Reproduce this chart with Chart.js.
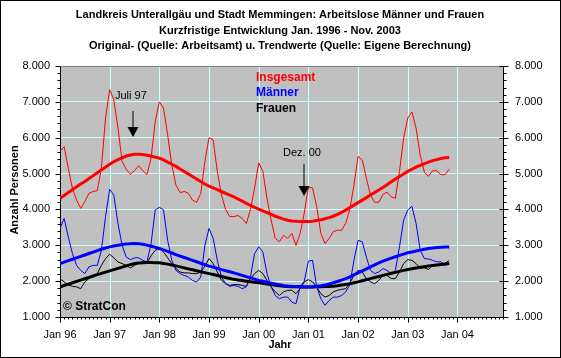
<!DOCTYPE html>
<html>
<head>
<meta charset="utf-8">
<script src="https://cdn.jsdelivr.net/npm/chart.js@4.4.1/dist/chart.umd.min.js"></script>
<style>
body{margin:0;background:#fff}
#wrap{width:561px;height:358px}
</style>
</head>
<body>
<div id="wrap"><canvas id="chart" width="561" height="358"></canvas></div>
<script>
var titleLines = [
    'Landkreis Unterallgäu und Stadt Memmingen: Arbeitslose Männer und Frauen',
    'Kurzfristige Entwicklung Jan. 1996 - Nov. 2003',
    'Original- (Quelle: Arbeitsamt) u. Trendwerte (Quelle: Eigene Berechnung)'
];
var yearLabels = ['Jan 96','Jan 97','Jan 98','Jan 99','Jan 00','Jan 01','Jan 02','Jan 03','Jan 04'];
var seriesNames = ['Insgesamt','Männer','Frauen'];

// monthly values Jan 1996 - Nov 2003 (index 0 = Jan 96)
var insgesamt = [5620,5750,5150,4590,4260,4030,4220,4450,4500,4520,5150,6550,
                 7340,7060,6270,5340,5120,4980,5080,5220,5080,4970,5430,6460,
                 7000,6830,6080,5240,4680,4470,4500,4450,4260,4200,4450,5340,
                 6000,5940,5060,4400,4000,3800,3800,3830,3750,3610,3990,4600,
                 5300,5060,4310,3700,3190,3100,3280,3190,3330,3000,3330,3900,
                 4620,4600,4080,3330,3050,3190,3380,3420,3420,3610,4000,4680,
                 5480,5380,4870,4400,4200,4200,4420,4480,4350,4310,5060,5990,
                 6550,6720,6270,5520,5040,4920,5080,5080,4970,4970,5120];
var maenner = [3470,3750,3235,2770,2440,2300,2210,2400,2440,2440,2860,3800,
               4560,4400,3610,3000,2670,2600,2650,2650,2580,2535,3050,3985,
               4060,3985,3140,2580,2300,2210,2160,2115,2020,1975,2115,3000,
               3470,3190,2580,2115,1930,1855,1880,1855,1790,1840,2115,2770,
               2955,2815,2210,1840,1600,1510,1555,1555,1415,1370,1840,2000,
               2560,2580,1850,1510,1325,1460,1555,1555,1600,1700,1900,2580,
               3140,3100,2670,2300,2210,2255,2350,2300,2210,2300,2955,3700,
               3985,4090,3610,2860,2630,2620,2580,2540,2540,2440,2490];
var frauen = [2070,1980,1900,1855,1840,1790,1980,2070,2130,2210,2440,2630,
              2750,2650,2535,2490,2440,2370,2440,2500,2535,2500,2710,2860,
              2910,2815,2650,2490,2350,2255,2230,2230,2210,2210,2255,2420,
              2630,2490,2255,2020,1930,1880,1905,1905,1880,1855,2070,2210,
              2300,2210,2020,1840,1700,1600,1700,1745,1745,1650,1790,1980,
              2040,1980,1840,1650,1555,1600,1700,1745,1770,1790,1950,2160,
              2300,2255,2070,1980,1930,2020,2160,2160,2070,2070,2255,2490,
              2600,2580,2490,2370,2370,2325,2440,2440,2490,2490,2580];

// trend values (Eigene Berechnung)
var trendInsgesamt = [4310,4390,4470,4550,4630,4710,4780,4860,4940,5020,5100,5180,
                      5260,5330,5390,5440,5490,5520,5540,5540,5530,5510,5490,5460,
                      5430,5380,5320,5260,5200,5130,5060,4990,4920,4850,4780,4710,
                      4650,4600,4550,4500,4450,4400,4350,4290,4230,4170,4110,4060,
                      4010,3960,3910,3860,3810,3770,3730,3700,3680,3670,3660,3660,
                      3660,3670,3690,3710,3740,3770,3810,3860,3920,3980,4050,4120,
                      4190,4260,4330,4400,4470,4540,4610,4690,4770,4850,4920,4990,
                      5060,5120,5180,5230,5280,5320,5360,5390,5420,5440,5450];
var trendMaenner = [2490,2530,2570,2610,2650,2690,2730,2770,2810,2850,2890,2925,
                    2955,2980,3000,3020,3035,3045,3050,3045,3030,3005,2975,2945,
                    2910,2870,2830,2785,2740,2700,2660,2620,2580,2540,2500,2460,
                    2420,2390,2355,2320,2290,2260,2230,2195,2160,2125,2090,2055,
                    2020,1995,1970,1945,1920,1900,1880,1865,1855,1848,1843,1840,
                    1840,1845,1855,1870,1890,1920,1955,1990,2030,2070,2120,2175,
                    2230,2285,2340,2400,2455,2510,2560,2600,2640,2680,2720,2755,
                    2790,2815,2840,2865,2890,2910,2925,2935,2945,2950,2955];
var trendFrauen = [1840,1878,1916,1954,1992,2030,2068,2106,2144,2180,2215,2250,
                   2285,2320,2355,2390,2425,2460,2490,2505,2515,2520,2520,2515,
                   2510,2495,2475,2450,2425,2398,2370,2343,2316,2290,2263,2237,
                   2210,2183,2156,2130,2103,2076,2050,2033,2017,2000,1985,1970,
                   1955,1938,1920,1903,1885,1868,1855,1850,1846,1843,1841,1840,
                   1840,1840,1842,1845,1848,1851,1855,1870,1890,1910,1930,1955,
                   1980,2010,2040,2070,2100,2130,2160,2190,2218,2245,2272,2300,
                   2325,2345,2365,2385,2403,2420,2435,2450,2465,2478,2490];

var FONT = 'Liberation Sans, Arial, sans-serif';

function pts(arr){
    return arr.map(function(v, i){ return {x: i, y: v}; });
}
function fmt(v){
    return String(v).replace(/\B(?=(\d{3})+(?!\d))/g, '.');
}
function arrow(ctx, x, y1, y2){
    ctx.beginPath();
    ctx.moveTo(x + 0.5, y1);
    ctx.lineTo(x + 0.5, y2 - 8);
    ctx.stroke();
    ctx.beginPath();
    ctx.moveTo(x - 5, y2 - 10);
    ctx.lineTo(x + 6, y2 - 10);
    ctx.lineTo(x + 0.5, y2);
    ctx.closePath();
    ctx.fill();
}

var frame = {
    id: 'frame',
    beforeDraw: function(chart){
        var ctx = chart.ctx, a = chart.chartArea;
        ctx.save();
        ctx.fillStyle = '#fff';
        ctx.fillRect(0, 0, chart.width, chart.height);
        ctx.fillStyle = '#c0c0c0';
        ctx.fillRect(a.left, a.top, a.right - a.left, a.bottom - a.top);
        ctx.restore();
    },
    beforeDatasetsDraw: function(chart){
        // crisp yearly grid lines
        var ctx = chart.ctx, a = chart.chartArea, xs = chart.scales.x;
        ctx.save();
        ctx.strokeStyle = '#ccffff';
        ctx.lineWidth = 1;
        ctx.beginPath();
        for (var m = 12; m <= 96; m += 12) {
            var px = Math.round(xs.getPixelForValue(m)) + 0.5;
            ctx.moveTo(px, a.top); ctx.lineTo(px, a.bottom);
        }
        ctx.stroke();
        ctx.restore();
    },
    afterDraw: function(chart){
        var ctx = chart.ctx, a = chart.chartArea;
        var xs = chart.scales.x, ys = chart.scales.y;
        ctx.save();
        ctx.strokeStyle = '#000';
        ctx.lineWidth = 1;
        // outer frame
        ctx.strokeRect(0.5, 0.5, chart.width - 1, chart.height - 1);
        // top edge of plot
        ctx.strokeStyle = '#808080';
        ctx.beginPath();
        ctx.moveTo(a.left, Math.round(a.top) + 0.5);
        ctx.lineTo(a.right, Math.round(a.top) + 0.5);
        ctx.stroke();
        // tick marks
        ctx.strokeStyle = '#000';
        ctx.beginPath();
        var l = Math.round(a.left) + 0.5, r = Math.round(a.right) + 0.5, b = Math.round(a.bottom) + 0.5;
        for (var v = 1000; v <= 8000; v += 200) {
            var py = Math.round(ys.getPixelForValue(v)) + 0.5;
            var major = v % 1000 === 0;
            ctx.moveTo(l - (major ? 5 : 3), py); ctx.lineTo(l, py);
            ctx.moveTo(r - (major ? 4 : 0), py); ctx.lineTo(r + (major ? 5 : 3), py);
        }
        for (var m = 0; m <= 107; m++) {
            var px = Math.round(xs.getPixelForValue(m)) + 0.5;
            ctx.moveTo(px, b); ctx.lineTo(px, b + (m % 12 === 0 ? 5 : 2));
        }
        ctx.stroke();

        // title
        ctx.fillStyle = '#000';
        ctx.textAlign = 'center';
        ctx.textBaseline = 'middle';
        ctx.font = 'bold 11px ' + FONT;
        titleLines.forEach(function(t, i){ ctx.fillText(t, 280, 15 + i * 15.5); });
        ctx.fillText('Jahr', 280, 345);

        // axis title
        ctx.save();
        ctx.translate(15, 190);
        ctx.rotate(-Math.PI / 2);
        ctx.fillText('Anzahl Personen', 0, 0);
        ctx.restore();

        // legend text
        ctx.textAlign = 'left';
        ctx.font = 'bold 12px ' + FONT;
        var colors = ['#ff0000', '#0000ff', '#000000'];
        seriesNames.forEach(function(n, i){
            ctx.fillStyle = colors[i];
            ctx.fillText(n, 256, 77.5 + i * 15.5);
        });
        ctx.fillStyle = '#000';
        ctx.fillText('\u00a9 StratCon', 63, 307);

        // annotations
        ctx.font = '11px ' + FONT;
        ctx.fillText('Juli 97', 115, 96);
        ctx.fillText('Dez. 00', 283, 153);
        arrow(ctx, 132.5, 111, 137);
        arrow(ctx, 303.5, 164, 196);
        ctx.restore();
    }
};

var chart_context = document.getElementById('chart').getContext('2d');
var chart = new Chart(chart_context, {
    type: 'line',
    data: {
        datasets: [
            {data: pts(trendInsgesamt), borderColor: '#ff0000', borderWidth: 3},
            {data: pts(trendMaenner), borderColor: '#0000ff', borderWidth: 3},
            {data: pts(trendFrauen), borderColor: '#000000', borderWidth: 3},
            {data: pts(insgesamt), borderColor: '#ff0000', borderWidth: 1},
            {data: pts(maenner), borderColor: '#0000ff', borderWidth: 1},
            {data: pts(frauen), borderColor: '#000000', borderWidth: 1}
        ]
    },
    options: {
        responsive: false,
        animation: false,
        layout: {padding: {top: 66, left: 0, right: 0, bottom: 0}},
        elements: {point: {radius: 0}, line: {tension: 0, fill: false}},
        plugins: {legend: {display: false}, tooltip: {enabled: false}},
        scales: {
            x: {
                type: 'linear', min: 0, max: 107,
                ticks: {
                    stepSize: 12, includeBounds: false, autoSkip: false, maxRotation: 0,
                    padding: 11, color: '#000', font: {family: FONT, size: 11},
                    callback: function(v){ return v % 12 === 0 ? yearLabels[v / 12] : ''; }
                },
                grid: {drawOnChartArea: false, drawTicks: false},
                border: {color: '#000'},
                afterFit: function(s){ s.height = 41; }
            },
            y: {
                position: 'left', min: 1000, max: 8000,
                ticks: {stepSize: 1000, padding: 10, color: '#000', font: {family: FONT, size: 11}, callback: fmt},
                grid: {color: '#ccffff', drawTicks: false},
                border: {color: '#000'},
                afterFit: function(s){ s.width = 60; }
            },
            y2: {
                position: 'right', min: 1000, max: 8000,
                ticks: {stepSize: 1000, padding: 12, color: '#000', font: {family: FONT, size: 11}, callback: fmt},
                grid: {drawOnChartArea: false, drawTicks: false},
                border: {color: '#000'},
                afterFit: function(s){ s.width = 58; }
            }
        }
    },
    plugins: [frame]
});
</script>
</body>
</html>
